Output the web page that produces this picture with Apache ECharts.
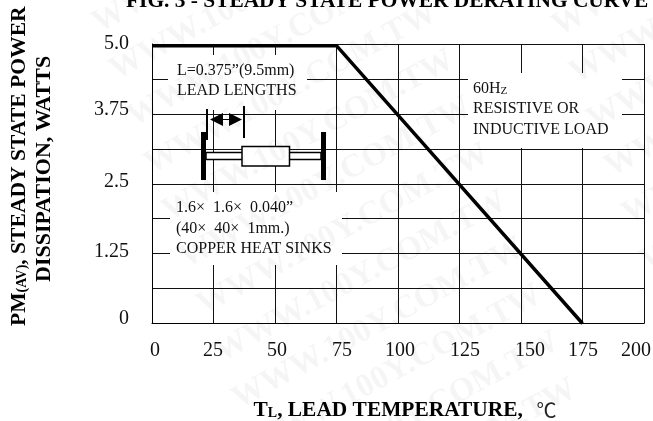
<!DOCTYPE html>
<html>
<head>
    <meta charset="utf-8"/>
    <title>Steady state power derating curve</title>
    <script src="https://cdn.jsdelivr.net/npm/echarts@6/dist/echarts.min.js"></script>
    <style>
        html, body { margin: 0; padding: 0; background: #fff; }
        #chart { width: 653px; height: 421px; }
    </style>
</head>
<body>
<div id="chart"></div>
<script>
    var serif = '"Liberation Serif", "Times New Roman", serif';

    // values
    var tempValues = [0, 75, 175];
    var powerValues = [4.97, 4.97, 0];
    var xTickLabels = ['0', '25', '50', '75', '100', '125', '150', '175', '200'];
    var yTickValues = [0, 1.25, 2.5, 3.75, 5];
    var yTickLabels = ['0', '1.25', '2.5', '3.75', '5.0'];
    // labels sit slightly off their gridlines in the original
    var xLabelNudge = [3, -0.5, 2, 5.5, 2, 5.5, 9, 0.5, -8];
    var yLabelNudge = [4.5, 2, 2, 4, 0];
    var watermarkText = 'WWW.100Y.COM.TW';

    var xRich = {};
    xTickLabels.forEach(function (t, i) {
        var n = xLabelNudge[i] * 2;
        xRich['x' + i] = {
            fontFamily: serif, fontSize: 20, color: '#111',
            padding: n > 0 ? [0, 0, 0, n] : [0, -n, 0, 0]
        };
    });
    var yRich = {};
    yTickLabels.forEach(function (t, i) {
        yRich['y' + i] = {
            fontFamily: serif, fontSize: 20, color: '#111',
            padding: [0, 0, yLabelNudge[i] * 2, 0]
        };
    });

    function box(x, y, w, h) {
        return {type: 'rect', z: 20, shape: {x: x, y: y, width: w, height: h}, style: {fill: '#fff'}};
    }

    function note(x, y, text) {
        return {
            type: 'text', z: 22, x: x, y: y,
            style: {text: text, fontFamily: serif, fontSize: 16, fill: '#111', lineHeight: 20.5}
        };
    }

    function block(x, y, w, h, fill) {
        return {
            type: 'rect', z: 21, shape: {x: x, y: y, width: w, height: h},
            style: {fill: fill, stroke: '#000', lineWidth: fill === '#000' ? 0 : 1.5}
        };
    }

    // faint site watermark, tiled over everything
    var marks = [];
    for (var col = 0; col < 2; col++) {
        for (var k = -3; k < 11; k++) {
            marks.push({
                type: 'text', z: 50,
                x: 120 + 17.5 * k + col * 460,
                y: 87 + 47 * k + col * 3,
                rotation: 0.496,
                style: {
                    text: watermarkText, fontFamily: serif, fontWeight: 'bold',
                    fontSize: 33, fill: 'rgba(0,0,0,0.04)', verticalAlign: 'bottom'
                }
            });
        }
    }

    var myChart = echarts.init(document.getElementById('chart'), null, {renderer: 'canvas'});
    myChart.setOption({
        animation: false,
        backgroundColor: '#fff',
        grid: {left: 152, top: 44, width: 492, height: 279.5, outerBoundsMode: 'none'},
        xAxis: {
            type: 'value', min: 0, max: 200, interval: 25,
            name: '{b|T}{s|L}{b|, LEAD TEMPERATURE,  }{c|℃}',
            nameLocation: 'middle', nameGap: 76,
            nameTextStyle: {
                padding: [0, 0, 0, 14],
                rich: {
                    b: {fontFamily: serif, fontWeight: 'bold', fontSize: 21.4, color: '#000'},
                    s: {fontFamily: serif, fontWeight: 'bold', fontSize: 14, color: '#000', padding: [7, 0, 0, 0]},
                    c: {fontFamily: '"Noto Sans CJK SC"', fontSize: 20, color: '#222', padding: [0, 0, 0, 3]}
                }
            },
            axisLine: {show: true, lineStyle: {color: '#000', width: 1}},
            axisTick: {show: false},
            splitLine: {show: true, lineStyle: {color: '#111', width: 1}},
            axisLabel: {
                margin: 17, rich: xRich, hideOverlap: false,
                formatter: function (v) {
                    var i = v / 25;
                    return '{x' + i + '|' + xTickLabels[i] + '}';
                }
            }
        },
        yAxis: {
            type: 'value', min: 0, max: 5, interval: 0.625,
            axisLine: {show: true, lineStyle: {color: '#000', width: 1}},
            axisTick: {show: false},
            splitLine: {show: true, lineStyle: {color: '#111', width: 1}},
            axisLabel: {
                margin: 23, rich: yRich, hideOverlap: false,
                formatter: function (v) {
                    var i = yTickValues.indexOf(v);
                    return i < 0 ? '' : '{y' + i + '|' + yTickLabels[i] + '}';
                }
            }
        },
        series: [{
            type: 'line',
            data: tempValues.map(function (t, i) { return [t, powerValues[i]]; }),
            symbol: 'none',
            z: 30,
            clip: false,
            lineStyle: {color: '#000', width: 3.5, join: 'miter'}
        }],
        graphic: marks.concat([
            // white boxes behind the notes
            box(168, 55, 139, 55),
            box(468, 73, 154, 75),
            box(170, 192, 172, 73),

            note(177, 60.5, 'L=0.375”(9.5mm)\nLEAD LENGTHS'),
            {
                type: 'text', z: 22, x: 473, y: 78.5,
                style: {
                    text: '{a|60H}{s|Z}\n{a|RESISTIVE OR}\n{a|INDUCTIVE LOAD}',
                    rich: {
                        a: {fontFamily: serif, fontSize: 16, fill: '#111', lineHeight: 20.5},
                        s: {fontFamily: serif, fontSize: 11, fill: '#111', padding: [5, 0, 0, 0]}
                    }
                }
            },
            note(176, 198, '1.6×  1.6×  0.040”\n(40×  40×  1mm.)\nCOPPER HEAT SINKS'),

            // diode sketch
            block(201, 132, 5, 48, '#000'),
            block(321, 132, 5, 48, '#000'),
            block(206, 152.5, 115, 7, '#fff'),
            block(242, 146.5, 47.5, 19.5, '#fff'),
            block(206, 109, 2, 31, '#000'),
            block(243, 106, 2, 32, '#000'),
            {type: 'line', z: 21, shape: {x1: 218, y1: 119.5, x2: 234, y2: 119.5}, style: {stroke: '#000', lineWidth: 1}},
            {type: 'polygon', z: 21, shape: {points: [[210, 119.5], [223, 113], [223, 126]]}, style: {fill: '#000'}},
            {type: 'polygon', z: 21, shape: {points: [[242, 119.5], [229, 113], [229, 126]]}, style: {fill: '#000'}},

            // title and y axis name
            {
                type: 'text', z: 40, x: 126, y: -9,
                style: {
                    text: 'FIG. 3 - STEADY STATE POWER DERATING CURVE',
                    fontFamily: serif, fontWeight: 'bold', fontSize: 21.4, fill: '#000'
                }
            },
            {
                type: 'text', z: 40, x: 8, y: 326, rotation: Math.PI / 2,
                style: {
                    text: '{b|PM}{s|(AV)}{b|, STEADY STATE POWER}',
                    rich: {
                        b: {fontFamily: serif, fontWeight: 'bold', fontSize: 21.6, fill: '#000'},
                        s: {fontFamily: serif, fontWeight: 'bold', fontSize: 14, fill: '#000', padding: [7, 0, 0, 0]}
                    }
                }
            },
            {
                type: 'text', z: 40, x: 33, y: 282, rotation: Math.PI / 2,
                style: {
                    text: 'DISSIPATION, WATTS',
                    fontFamily: serif, fontWeight: 'bold', fontSize: 22, fill: '#000'
                }
            }
        ])
    });
</script>
</body>
</html>
